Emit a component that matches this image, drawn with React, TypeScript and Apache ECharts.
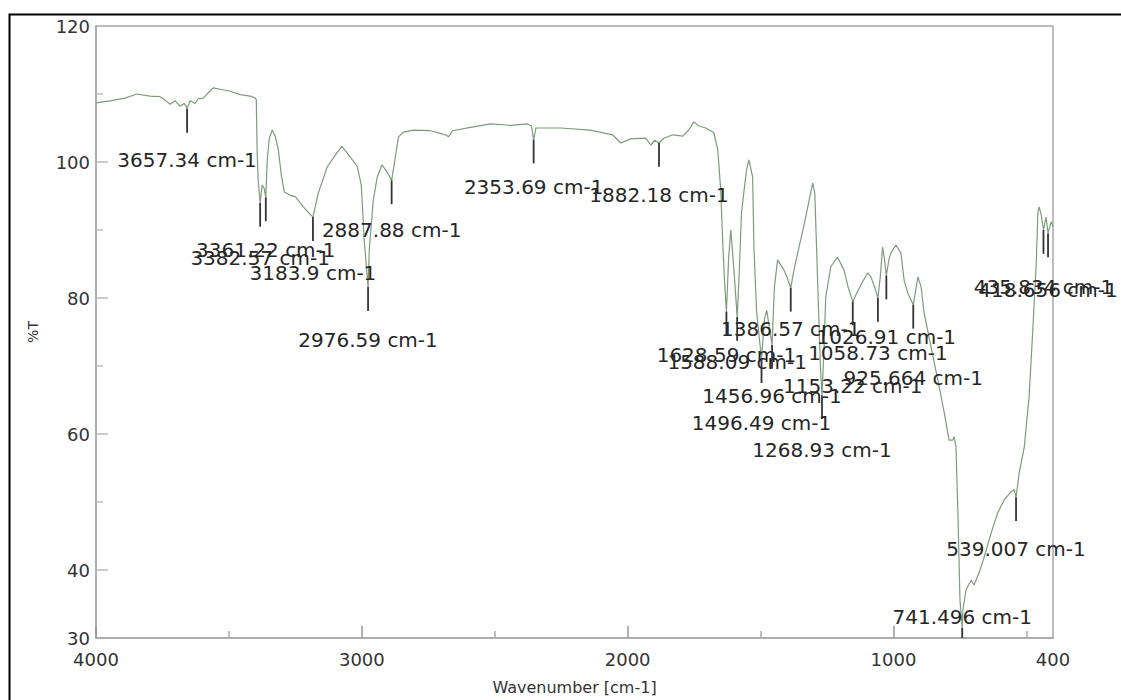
import React, { useEffect, useRef } from "react";
import * as echarts from "echarts";

const wavenumbers = [
  4000, 3947, 3891, 3846, 3797, 3759, 3740, 3721, 3702, 3684, 3669, 3662, 3657.34, 3652, 3646, 3627, 3616, 3597, 3582,
  3559, 3533, 3495, 3458, 3420, 3401, 3397, 3394, 3390, 3382.57, 3375, 3368, 3361.22, 3356, 3348, 3337, 3326, 3314,
  3303, 3292, 3269, 3250, 3232, 3209, 3183.9, 3164, 3130, 3100, 3075, 3041, 3017, 3002, 2991, 2976.59, 2972, 2957,
  2942, 2924, 2905, 2887.88, 2874, 2862, 2844, 2806, 2742, 2685, 2674, 2659, 2591, 2516, 2441, 2377, 2362, 2353.69,
  2345, 2335, 2253, 2140, 2057, 2026, 1989, 1932, 1913, 1898, 1882.18, 1864, 1830, 1793, 1770, 1751, 1732, 1706, 1676,
  1661, 1650, 1642, 1635, 1628.59, 1620, 1612, 1600, 1588.09, 1580, 1572, 1553, 1544, 1530, 1525, 1515, 1496.49, 1485,
  1477, 1456.96, 1448, 1436, 1412, 1400, 1386.57, 1372, 1335, 1304, 1296, 1285, 1275, 1268.93, 1262, 1255, 1236, 1211,
  1186, 1170, 1153.22, 1135, 1122, 1097, 1085, 1070, 1058.73, 1050, 1041, 1035, 1026.91, 1018, 1010, 991, 972, 960,
  946, 925.664, 908, 896, 885, 859, 833, 809, 791, 777, 772, 765, 757, 750, 741.496, 739, 727, 708, 697, 678, 659, 633,
  608, 584, 558, 546, 539.007, 527, 508, 490, 476, 463, 457, 452, 444, 435.834, 426, 418.656, 407, 400,
];

const transmittance = [
  108.7, 109.0, 109.4, 110.0, 109.7, 109.6, 109.1, 108.5, 109.0, 108.2, 108.6, 108.3, 107.8, 108.4, 109.0, 108.6, 109.3,
  109.4, 110.0, 110.9, 110.7, 110.4, 109.9, 109.7, 109.4, 109.2, 101.8, 97.4, 94.0, 96.6, 96.2, 94.8, 100.3, 103.5,
  104.7, 103.8, 101.8, 98.1, 95.6, 95.1, 94.9, 94.0, 92.9, 91.9, 95.4, 99.3, 101.0, 102.3, 100.6, 99.3, 96.6, 88.5, 81.6,
  87.1, 94.4, 97.8, 99.6, 98.5, 97.3, 100.7, 103.7, 104.4, 104.7, 104.6, 104.0, 103.7, 104.6, 105.1, 105.6, 105.4, 105.6,
  105.3, 103.3, 105.0, 105.0, 105.0, 104.7, 104.0, 102.8, 103.4, 103.5, 102.5, 103.2, 102.8, 103.5, 104.0, 103.8, 104.7,
  105.9, 105.3, 105.0, 104.3, 101.8, 95.9, 88.0, 82.0, 78.0, 86.0, 90.0, 84.0, 77.2, 84.0, 92.5, 98.8, 100.3, 97.8, 87.5,
  78.0, 71.0, 77.0, 78.2, 73.1, 81.6, 85.6, 84.1, 83.0, 81.5, 84.6, 91.0, 96.9, 95.4, 82.0, 70.0, 65.7, 72.0, 80.1, 84.6,
  86.0, 84.1, 81.5, 79.5, 81.0, 82.0, 83.7, 83.1, 81.5, 80.0, 83.0, 87.5, 86.0, 83.3, 85.5, 86.6, 87.8, 86.6, 82.6, 80.7,
  79.0, 83.1, 81.6, 77.8, 72.8, 67.9, 63.1, 59.1, 59.1, 59.6, 58.1, 47.4, 35.6, 31.5, 34.1, 37.1, 38.5, 37.8, 39.6, 41.9,
  45.4, 48.4, 50.3, 51.5, 51.8, 50.7, 54.3, 58.1, 65.4, 75.3, 85.1, 92.5, 93.4, 92.2, 90.0, 91.9, 89.5, 91.2, 90.5,
];

const peakWavenumbers = [
  3657.34, 3382.57, 3361.22, 3183.9, 2976.59, 2887.88, 2353.69, 1882.18, 1628.59, 1588.09, 1496.49, 1456.96, 1386.57,
  1268.93, 1153.22, 1058.73, 1026.91, 925.664, 741.496, 539.007, 435.834, 418.656,
];
const peakTransmittance = [
  107.8, 94.0, 94.8, 91.9, 81.6, 97.3, 103.3, 102.8, 78.0, 77.2, 71.0, 73.1, 81.5, 65.7, 79.5, 80.0, 83.3, 79.0, 31.5,
  50.7, 90.0, 89.5,
];
const peakLabelTransmittance = [
  100.3, 85.9, 87.1, 83.7, 73.8, 90.0, 96.3, 95.1, 71.6, 70.6, 61.6, 65.6, 75.4, 57.6, 67.1, 71.9, 74.3, 68.2, 33.1,
  43.1, 81.6, 81.2,
];
const peakLabels = [
  "3657.34 cm-1", "3382.57 cm-1", "3361.22 cm-1", "3183.9 cm-1", "2976.59 cm-1", "2887.88 cm-1", "2353.69 cm-1",
  "1882.18 cm-1", "1628.59 cm-1", "1588.09 cm-1", "1496.49 cm-1", "1456.96 cm-1", "1386.57 cm-1", "1268.93 cm-1",
  "1153.22 cm-1", "1058.73 cm-1", "1026.91 cm-1", "925.664 cm-1", "741.496 cm-1", "539.007 cm-1", "435.834 cm-1",
  "418.656 cm-1",
];

const xLabelValues = [4000, 3000, 2000, 1000, 400];
const xMajorTicks = [4000, 3000, 2000, 1000];
const xMinorTicks = [3500, 2500, 1500, 500];
const yLabelValues = [30, 40, 60, 80, 100, 120];
const yMajorTicks = [40, 60, 80, 100];
const yMinorTicks = [50, 70, 90, 110];

const FONT = "DejaVu Sans";

export default function App() {
  const ref = useRef<HTMLDivElement>(null);
  useEffect(() => {
    if (!ref.current) return;
    const chart = echarts.init(ref.current, undefined, { renderer: "svg" });
    const axisColor = "#a8a8a8";
    const lineData = wavenumbers.map((w, i) => [w, transmittance[i]]);
    const peakData = peakWavenumbers.map((w, i) => [w, peakTransmittance[i], peakLabelTransmittance[i], i]);
    chart.setOption({
      animation: false,
      backgroundColor: "#ffffff",
      grid: {
        left: 96,
        right: 68,
        top: 26,
        bottom: 59,
        show: true,
        borderColor: axisColor,
        borderWidth: 1.5,
        backgroundColor: "transparent",
      },
      graphic: [
        {
          type: "rect",
          left: 7,
          top: 12,
          shape: { width: 1140, height: 720 },
          style: { fill: "none", stroke: "#000", lineWidth: 2 },
          z: 100,
          silent: true,
        },
      ],
      xAxis: [
        {
          type: "value",
          min: 400,
          max: 4000,
          inverse: true,
          position: "bottom",
          offset: 0,
          name: "Wavenumber [cm-1]",
          nameLocation: "middle",
          nameGap: 41,
          nameTextStyle: { fontFamily: FONT, fontSize: 16, color: "#333" },
          axisLine: { show: true, lineStyle: { color: axisColor, width: 1.5 } },
          axisTick: { show: true, inside: true, length: 12, customValues: xMajorTicks, lineStyle: { color: "#999", width: 1.5 } },
          axisLabel: {
            customValues: xLabelValues,
            margin: 12,
            color: "#333",
            fontSize: 18,
            fontFamily: FONT,
            formatter: (v: number) => String(v),
          },
          splitLine: { show: false },
        },
        {
          type: "value",
          min: 400,
          max: 4000,
          inverse: true,
          position: "bottom",
          offset: 0,
          axisLine: { show: false },
          axisTick: { show: true, inside: true, length: 7, customValues: xMinorTicks, lineStyle: { color: "#aaa", width: 1.5 } },
          axisLabel: { show: false },
          splitLine: { show: false },
        },
      ],
      yAxis: [
        {
          type: "value",
          min: 30,
          max: 120,
          position: "left",
          offset: 0,
          name: "%T",
          nameLocation: "middle",
          nameGap: 56,
          nameTextStyle: { fontFamily: FONT, fontSize: 14, color: "#333" },
          axisLine: { show: true, lineStyle: { color: axisColor, width: 1.5 } },
          axisTick: { show: true, inside: true, length: 12, customValues: yMajorTicks, lineStyle: { color: "#bbb", width: 1.5 } },
          axisLabel: {
            customValues: yLabelValues,
            margin: 6,
            color: "#333",
            fontSize: 18,
            fontFamily: FONT,
            formatter: (v: number) => String(v),
          },
          splitLine: { show: false },
        },
        {
          type: "value",
          min: 30,
          max: 120,
          position: "left",
          offset: 0,
          axisLine: { show: false },
          axisTick: { show: true, inside: true, length: 7, customValues: yMinorTicks, lineStyle: { color: "#bbb", width: 1.5 } },
          axisLabel: { show: false },
          splitLine: { show: false },
        },
      ],
      series: [
        {
          type: "line",
          xAxisIndex: 0,
          yAxisIndex: 0,
          data: lineData,
          showSymbol: false,
          symbol: "none",
          smooth: false,
          lineStyle: { color: "#7c9c7c", width: 1.2 },
          z: 2,
        },
        {
          type: "custom",
          xAxisIndex: 0,
          yAxisIndex: 0,
          clip: false,
          z: 5,
          data: peakData,
          encode: { x: 0, y: 1 },
          renderItem: (params: any, api: any) => {
            const wn = api.value(0);
            const t = api.value(1);
            const lt = api.value(2);
            const idx = api.value(3);
            const p = api.coord([wn, t]);
            const pe = api.coord([wn, Math.max(t - 3.5, 30)]);
            const pl = api.coord([wn, lt]);
            return {
              type: "group",
              children: [
                {
                  type: "line",
                  shape: { x1: p[0], y1: p[1], x2: pe[0], y2: pe[1] },
                  style: { stroke: "#333", lineWidth: 1.8 },
                },
                {
                  type: "text",
                  style: {
                    text: peakLabels[idx],
                    x: pl[0],
                    y: pl[1],
                    fill: "#262626",
                    font: `20px "${FONT}"`,
                    align: "center",
                    verticalAlign: "middle",
                  },
                },
              ],
            };
          },
        },
      ],
    });
    return () => chart.dispose();
  }, []);
  return (
    <div
      ref={ref}
      style={{ position: "fixed", left: 0, top: 0, width: 1121, height: 700, background: "#fff" }}
    />
  );
}
